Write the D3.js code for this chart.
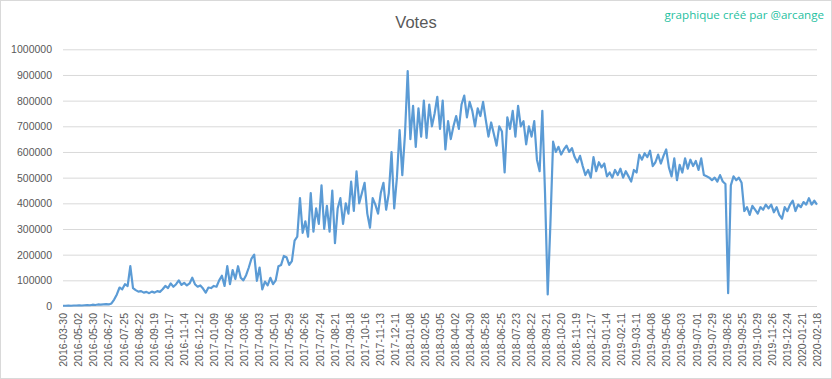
<!DOCTYPE html>
<html>
<head>
<meta charset="utf-8">
<script src="https://cdn.jsdelivr.net/npm/d3@7/dist/d3.min.js"></script>
<style>
  html, body { margin: 0; padding: 0; background: #fff; }
  svg { display: block; }
</style>
</head>
<body>
<svg id="chart" width="832" height="379"></svg>
<script>
// ---- DATA ----
const title = "Votes";
const credit = "graphique créé par @arcange";
const tickLabels = [
  "2016-03-30","2016-05-02","2016-05-30","2016-06-27","2016-07-25","2016-08-22","2016-09-19","2016-10-17","2016-11-14","2016-12-12",
  "2017-01-09","2017-02-06","2017-03-06","2017-04-03","2017-05-01","2017-05-29","2017-06-26","2017-07-24","2017-08-21","2017-09-18",
  "2017-10-16","2017-11-13","2017-12-11","2018-01-08","2018-02-05","2018-03-05","2018-04-02","2018-04-30","2018-05-28","2018-06-25",
  "2018-07-23","2018-08-22","2018-09-21","2018-10-20","2018-11-19","2018-12-17","2019-01-14","2019-02-11","2019-03-11","2019-04-08",
  "2019-05-06","2019-06-03","2019-07-01","2019-07-29","2019-08-26","2019-09-25","2019-10-29","2019-11-26","2019-12-24","2020-01-21",
  "2020-02-18"
];
const labelEvery = 28;       // points between two labels
const sampleEvery = 5;       // points between two samples below
const yTicks = [0,100000,200000,300000,400000,500000,600000,700000,800000,900000,1000000];
// votes (thousands), one sample every 5 points
const votesK = [
  1,1,2,1,2,2,3,2,3,4,3,5,4,6,5,6,7,6,10,25,
  45,72,65,85,78,155,70,62,56,58,52,55,50,56,52,58,55,65,78,70,
  88,75,85,100,82,90,80,88,110,85,75,80,68,52,72,70,78,75,100,118,
  78,155,85,140,105,155,110,100,120,150,185,200,98,150,65,95,80,110,85,100,
  155,160,195,190,160,175,255,270,420,285,330,270,440,290,380,320,470,300,390,290,
  450,245,380,420,320,400,360,485,370,525,400,440,480,360,305,420,395,360,440,480,
  375,440,600,380,500,685,510,670,915,650,780,620,770,660,800,655,785,700,750,815,
  690,800,610,720,650,700,740,690,785,820,735,795,760,700,770,740,795,725,660,715,
  670,625,700,680,520,735,690,760,660,780,700,720,630,700,660,720,570,525,760,440,
  45,320,640,600,620,590,610,625,600,615,580,560,585,545,510,530,500,580,525,560,
  540,555,505,520,500,530,510,535,500,525,505,485,530,520,590,570,595,580,605,545,
  560,590,555,585,610,540,505,575,490,550,520,575,535,570,545,565,530,575,510,505,
  500,490,500,485,510,485,475,50,470,505,490,500,480,370,385,355,390,375,360,385,
  375,395,380,395,365,385,355,340,385,370,395,410,370,395,385,405,395,420,395,410,
  395
];

// ---- CHART ----
const svg = d3.select("#chart");
const W = 832, H = 379;
const mLeft = 63, mRight = 817, mTop = 49.3, mBottom = 306;
const totalPoints = (tickLabels.length - 1) * labelEvery;

const x = d3.scaleLinear().domain([0, totalPoints]).range([mLeft, mRight]);
const y = d3.scaleLinear().domain([0, 1000000]).range([mBottom, mTop]);

// border
svg.append("rect")
  .attr("x", 0.5).attr("y", 0.5).attr("width", W - 1).attr("height", H - 1)
  .attr("fill", "#fff").attr("stroke", "#d9d9d9");

// gridlines + y labels
const yAxis = d3.axisLeft(y).tickValues(yTicks).tickSize(-(mRight - mLeft)).tickPadding(11)
  .tickFormat(d3.format("d"));
const gy = svg.append("g").attr("transform", `translate(${mLeft},0)`).call(yAxis);
gy.select(".domain").remove();
gy.selectAll(".tick line").attr("stroke", "#d9d9d9").attr("stroke-width", 1);
gy.selectAll(".tick text")
  .attr("fill", "#595959")
  .style("font-family", "'Liberation Sans', Arial, sans-serif")
  .style("font-size", "10.5px");

// x labels
const xAxis = d3.axisBottom(x)
  .tickValues(tickLabels.map((_, i) => i * labelEvery))
  .tickSize(0)
  .tickFormat((d) => tickLabels[d / labelEvery]);
const gx = svg.append("g").attr("transform", `translate(0,${mBottom})`).call(xAxis);
gx.select(".domain").remove();
gx.selectAll(".tick text")
  .attr("fill", "#595959")
  .style("font-family", "'Liberation Sans', Arial, sans-serif")
  .style("font-size", "10.5px")
  .attr("text-anchor", "end")
  .attr("transform", "rotate(-90)")
  .attr("x", -7)
  .attr("y", 0)
  .attr("dy", "0.35em");

// line
const line = d3.line()
  .x((d, i) => x(i * sampleEvery))
  .y((d) => y(d * 1000));
svg.append("path")
  .datum(votesK)
  .attr("fill", "none")
  .attr("stroke", "#5b9bd5")
  .attr("stroke-width", 2.2)
  .attr("stroke-linejoin", "round")
  .attr("d", line);

// title
svg.append("text")
  .attr("x", 416).attr("y", 28)
  .attr("text-anchor", "middle")
  .attr("fill", "#595959")
  .style("font-family", "'Liberation Sans', Arial, sans-serif")
  .style("font-size", "16.5px")
  .text(title);

// credit
svg.append("text")
  .attr("x", 824).attr("y", 19)
  .attr("text-anchor", "end")
  .attr("fill", "#1fbf9f")
  .style("font-family", "'Open Sans', sans-serif")
  .style("font-size", "11.6px")
  .text(credit);
</script>
</body>
</html>
